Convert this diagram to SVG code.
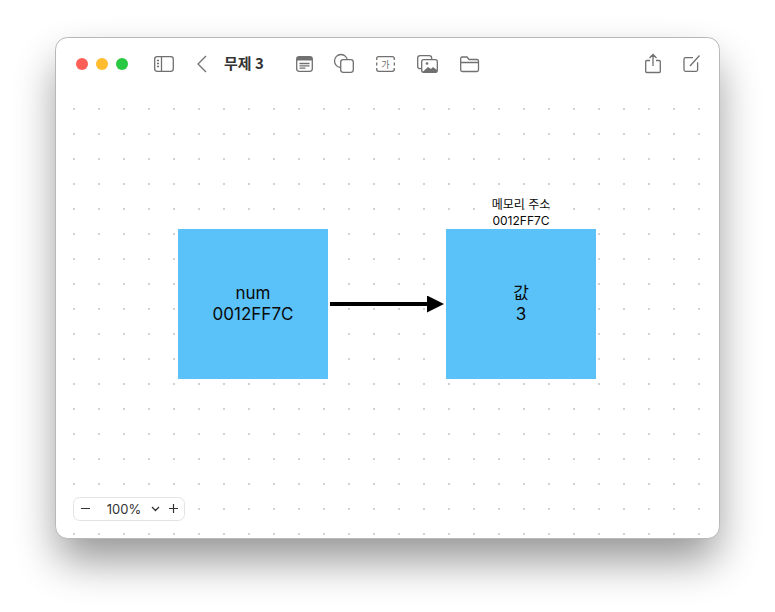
<svg xmlns="http://www.w3.org/2000/svg" width="775" height="612" viewBox="0 0 775 612">
<style>
.ui{fill:none;stroke:#707070;stroke-width:1.3}
.t{font-family:"Inter","Noto Sans CJK KR",sans-serif;fill:#0a0a0a;text-anchor:middle}
.big{font-size:17px}
.small{font-size:12px}
.box{fill:#5ac2f9}
</style>
<defs>
<pattern id="dots" x="73" y="108" width="25" height="25" patternUnits="userSpaceOnUse"><rect width="2" height="2" fill="#d2d2d2"/></pattern>
<filter id="sh" x="-20%" y="-20%" width="140%" height="150%"><feGaussianBlur stdDeviation="22"/></filter>
<marker id="ah" markerUnits="userSpaceOnUse" markerWidth="18" markerHeight="18" refX="3" refY="8.5" orient="auto"><path d="M0 0L17 8.5L0 17Z" fill="#000"/></marker>
</defs>
<rect width="775" height="612" fill="#fff"/>
<rect x="58" y="62" width="659" height="498" rx="12" fill="#000" opacity=".42" filter="url(#sh)"/>
<rect x="55.500" y="37.500" width="664" height="501" rx="12" fill="#fff" stroke="#b8b8b8" stroke-width="1"/>
<g id="canvas-dots"><rect x="70" y="105" width="635" height="430" fill="url(#dots)"/></g>
<g id="window-controls">
<circle cx="82" cy="64" r="6" fill="#fe5f57"/><circle cx="102" cy="64" r="6" fill="#febc2e"/><circle cx="122" cy="64" r="6" fill="#28c840"/>
<rect x="154.700" y="56.700" width="18.600" height="14.600" rx="2.500" class="ui"/><path d="M161.500 57V71" class="ui"/><path d="M157 60.500h2M157 63.500h2M157 66.500h2" class="ui" stroke-width="1"/>
<path d="M206 56L198 64L206 72" class="ui" stroke-width="1.600"/>
<text x="244" y="69" font-family="Noto Sans CJK KR,sans-serif" font-size="15" font-weight="700" fill="#333" text-anchor="middle">무제 3</text>
<rect x="296.700" y="56.700" width="15.600" height="14.600" rx="2.500" class="ui"/><path d="M297 57h15v3.500h-15z" fill="#707070"/><path d="M299.500 63.500h10M299.500 65.800h10M299.500 68.100h6" class="ui" stroke-width="1"/>
<circle cx="341" cy="61" r="6.500" class="ui"/><rect x="340.700" y="59.700" width="12.600" height="12.600" rx="2.500" fill="#fff" stroke="#707070" stroke-width="1.300"/>
<path d="M376.700 60v-1.300a2 2 0 0 1 2-2h13.600a2 2 0 0 1 2 2V60M376.700 68v1.300a2 2 0 0 0 2 2h13.600a2 2 0 0 0 2-2V68M376.700 62.500v3M394.300 62.500v3" class="ui"/><text x="385.500" y="67.500" font-family="Noto Sans CJK KR,sans-serif" font-size="9" fill="#707070" text-anchor="middle">가</text>
<rect x="417.700" y="55.700" width="14" height="13" rx="2.500" class="ui"/><rect x="421.700" y="59.700" width="15.600" height="12.600" rx="2" fill="#fff" stroke="#707070" stroke-width="1.300"/><path d="M422 72.500L428 67L431 69L433 67L437 70V72.500Z" fill="#707070"/><circle cx="427" cy="63.500" r="1.300" fill="#707070"/>
<path d="M460.700 70V58.500a1.500 1.500 0 0 1 1.500-1.500h4.800l2 2.500h8a1.500 1.500 0 0 1 1.500 1.500v9a1.500 1.500 0 0 1-1.500 1.500h-14.800a1.500 1.500 0 0 1-1.500-1.500zM460.700 62.500h17.800" class="ui"/>
<path d="M650 60.500h-3.300a1 1 0 0 0-1 1v10a1 1 0 0 0 1 1h12.600a1 1 0 0 0 1-1v-10a1 1 0 0 0-1-1H656M653 66V54.500M649.500 58L653 54.500L656.500 58" class="ui"/>
<path d="M693 57.700h-7.500a1.500 1.500 0 0 0-1.500 1.500v10.600a1.500 1.500 0 0 0 1.500 1.500h10.600a1.500 1.500 0 0 0 1.500-1.500v-7.500M690 66L699.500 55.500" class="ui"/>
</g>
<g id="node-num"><rect class="box" x="178" y="229" width="150" height="150"/><text class="t big" x="253" y="299">num</text><text class="t big" x="253" y="320">0012FF7C</text></g>
<g id="node-value"><rect class="box" x="446" y="229" width="150" height="150"/><text class="t big" x="521" y="299">값</text><text class="t big" x="521" y="320">3</text></g>
<g id="label-address"><text class="t small" x="521" y="209">메모리 주소</text><text class="t small" x="521" y="225">0012FF7C</text></g>
<g id="connectors"><path d="M330 304H430" stroke="#000" stroke-width="4" fill="none" marker-end="url(#ah)"/></g>
<g id="zoom-control">
<rect x="73.500" y="497.500" width="111" height="23" rx="6" fill="#fff" stroke="#e3e3e3"/>
<path d="M81 508.500h9M169 508.500h9M173.500 504v9" stroke="#333" stroke-width="1.200" fill="none"/>
<text x="124" y="514" font-family="Inter,sans-serif" font-size="13" fill="#333" text-anchor="middle">100%</text>
<path d="M152 507L155.500 510.500L159 507" stroke="#333" stroke-width="1.300" fill="none"/>
</g>
</svg>
